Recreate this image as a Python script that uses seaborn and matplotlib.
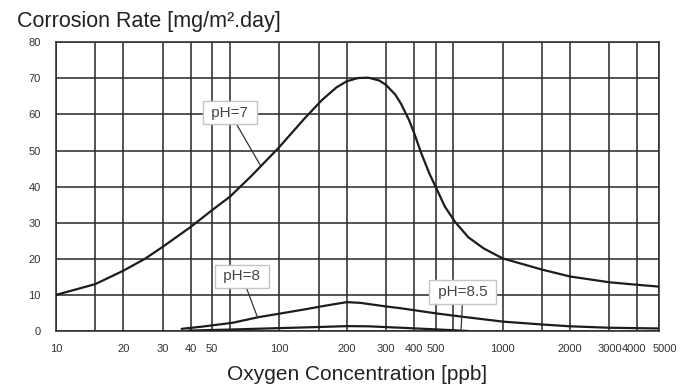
import matplotlib
matplotlib.use("Agg")
import matplotlib.pyplot as plt
import matplotlib.transforms as mtransforms
import seaborn as sns
import pandas as pd

# ---- data ----
ph7_x = [10, 15, 20, 25, 30, 40, 50, 60, 75, 100, 130, 155, 180, 200, 225, 250, 280, 300,
         330, 350, 380, 400, 430, 470, 500, 550, 610, 700, 820, 1000, 1500, 2000, 3000, 4000, 5000]
ph7_y = [10, 13, 16.7, 20, 23.3, 28.8, 33.5, 37.2, 43, 51, 59, 64, 67.5, 69.2, 70.1, 70.2, 69.4, 68.2,
         65.5, 63, 58.5, 55, 49.5, 43.5, 40, 34.5, 30.3, 26, 22.9, 20.1, 17, 15.1, 13.5, 12.8, 12.3]

ph8_x = [36.5, 45, 62, 80, 100, 130, 160, 200, 230, 300, 350, 500, 650, 1000, 1500, 2000, 3000, 5000]
ph8_y = [0.6, 1.2, 2.3, 3.8, 4.8, 6.0, 7.0, 8.0, 7.8, 6.8, 6.3, 4.9, 4.0, 2.6, 1.8, 1.3, 0.9, 0.7]

ph85_x = [39, 60, 100, 150, 200, 250, 350, 500, 700]
ph85_y = [0.1, 0.4, 0.8, 1.1, 1.35, 1.3, 0.9, 0.45, 0.0]

grid_x = [10, 15, 20, 30, 40, 50, 60, 100, 150, 200, 300, 400, 500, 600,
          1000, 1500, 2000, 3000, 4000, 5000]
labeled_x = [10, 20, 30, 40, 50, 100, 200, 300, 400, 500, 1000, 2000, 3000, 4000, 5000]
y_ticks = [0, 10, 20, 30, 40, 50, 60, 70, 80]

labels = ["pH=7", "pH=8", "pH=8.5"]
label_point = [(82, 46), (80, 3.6), (650, 0.15)]
label_box = [(60, 60.5), (68, 15.2), (663, 10.8)]

title = "Corrosion Rate [mg/m\u00b2.day]"
xlabel = "Oxygen Concentration [ppb]"

df = pd.concat([
    pd.DataFrame({"x": ph7_x, "v": ph7_y, "curve": "pH=7"}),
    pd.DataFrame({"x": ph8_x, "v": ph8_y, "curve": "pH=8"}),
    pd.DataFrame({"x": ph85_x, "v": ph85_y, "curve": "pH=8.5"}),
])

sns.set_style("white")
plt.rcParams["font.family"] = ["Liberation Sans", "DejaVu Sans"]

fig = plt.figure(figsize=(6.89, 3.88), dpi=100)
ax = fig.add_axes([56 / 689, 1 - 331 / 388, (659 - 56) / 689, (331 - 42.3) / 388])

sns.lineplot(data=df, x="x", y="v", hue="curve", palette=["#1c1c1c"] * 3,
             estimator=None, sort=False, legend=False, linewidth=1.6, ax=ax, zorder=3)

ax.set_xscale("log")
ax.set_xlim(10, 5000)
ax.set_ylim(0, 80)
ax.set_xticks(grid_x)
ax.set_xticklabels([str(v) if v in labeled_x else "" for v in grid_x])
ax.minorticks_off()
ax.set_yticks(y_ticks)
ax.grid(True, color="#2e2e2e", linewidth=1.15)
ax.set_axisbelow(True)
ax.tick_params(axis="both", length=0, labelsize=8, colors="#333333")
ax.tick_params(axis="x", pad=9)
ax.tick_params(axis="y", pad=11)
for s in ax.spines.values():
    s.set_color("#2e2e2e")
    s.set_linewidth(1.15)
ax.set_xlabel("")
ax.set_ylabel("")

# nudge the crowded last labels apart as in the reference
for val, lab in zip(grid_x, ax.get_xticklabels()):
    if val == 4000:
        lab.set_transform(lab.get_transform() + mtransforms.ScaledTranslation(-3 / 100, 0, fig.dpi_scale_trans))
    elif val == 5000:
        lab.set_transform(lab.get_transform() + mtransforms.ScaledTranslation(6 / 100, 0, fig.dpi_scale_trans))

for lab, pt, bx in zip(labels, label_point, label_box):
    ax.annotate(" " + lab + " ", xy=pt, xytext=bx, ha="center", va="center",
                fontsize=11, color="#444444", zorder=5,
                bbox=dict(boxstyle="square,pad=0.3", fc="white", ec="#c4c4c4", lw=1),
                arrowprops=dict(arrowstyle="-", color="#333333", lw=0.9, shrinkA=0, shrinkB=0))

fig.text(17 / 689, 1 - 26.7 / 388, title, ha="left", va="baseline", fontsize=15.5, color="#222222")
fig.text(357 / 689, 1 - 380 / 388, xlabel, ha="center", va="baseline", fontsize=15, color="#222222")

fig.savefig("out.png", dpi=100)
